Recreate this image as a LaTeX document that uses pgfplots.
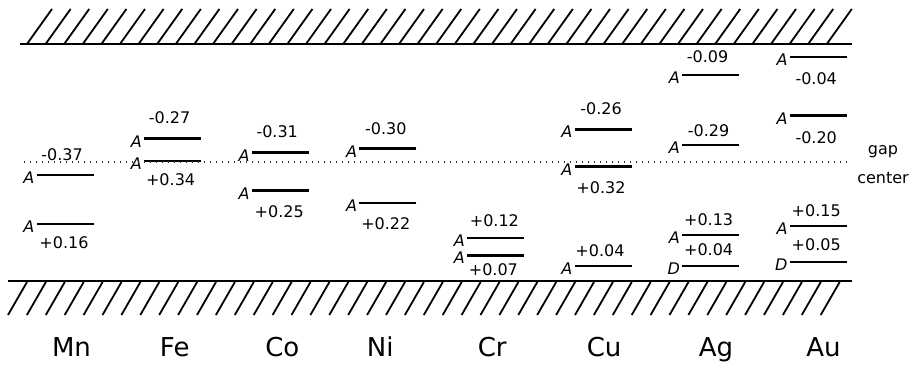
\documentclass[border=0pt]{standalone}
\usepackage{pgfplots}
\pgfplotsset{compat=1.18}
\usepackage{pgfplotstable}
\usepackage{fontspec}
\setmainfont{DejaVu Sans}
\usetikzlibrary{plotmarks}
\newcommand{\numfont}{\fontsize{16}{19}\selectfont}

% x = element index, y = level position (eV above valence band edge)
\pgfplotstableread{
x y lab dx dy lt
0 0.295 -0.37 -3 20 A
0 0.159 +0.16 -1 -19 A
1 0.396 -0.27 -3 21 A
1 0.334 +0.34 -2 -19 A
2 0.357 -0.31 -3 21 A
2 0.251 +0.25 -1 -21 A
3 0.368 -0.30 -2 20 A
3 0.217 +0.22 -2 -21 A
4 0.120 +0.12 -1 17 A
4 0.072 +0.07 -2 -15 A
5 0.423 -0.26 -2 20 A
5 0.318 +0.32 -2 -21 A
5 0.042 +0.04 -3 15 A
6 0.574 -0.09 -3 18 A
6 0.379 -0.29 -2 14 A
6 0.128 +0.13 -2 15 A
6 0.042 +0.04 -2 16 D
7 0.624 -0.04 -2 -22 A
7 0.460 -0.20 -2 -22 A
7 0.153 +0.15 -2 15 A
7 0.053 +0.05 -2 17 D
}\levels

\begin{document}
\begin{tikzpicture}
\begin{axis}[
  at={(0,0)}, anchor=south west,
  scale only axis, width=916pt, height=367pt,
  xmin=-0.6041, xmax=7.9089, ymin=-0.2396, ymax=0.7827,
  axis line style={draw=none},
  major tick style={draw=none},
  ytick=\empty,
  xtick={0.06,1.02,2.02,2.93,3.97,5.01,6.05,7.05},
  xticklabels={Mn,Fe,Co,Ni,Cr,Cu,Ag,Au},
  xticklabel style={anchor=base, yshift=10pt, font=\fontsize{26}{30}\selectfont},
  clip=false,
]
\path (rel axis cs:0,0) rectangle (rel axis cs:1,1);
\addplot[only marks, mark=-, mark size=28.5pt, mark options={line width=2.8pt}]
  table[x=x,y=y]{\levels};
\addplot[only marks, mark=*, mark size=0pt, mark options={draw=none,fill=none},
  point meta=explicit symbolic,
  visualization depends on={\thisrow{dx}\as\ldx},
  visualization depends on={\thisrow{dy}\as\ldy},
  nodes near coords,
  every node near coord/.append style={anchor=center, xshift=\ldx pt, yshift=\ldy pt, font=\numfont, inner sep=0pt}]
  table[x=x,y=y,meta=lab]{\levels};
\addplot[only marks, mark=*, mark size=0pt, mark options={draw=none,fill=none},
  point meta=explicit symbolic,
  nodes near coords,
  every node near coord/.append style={anchor=east, xshift=-30.5pt, yshift=-2.5pt, font=\itshape\numfont, inner sep=0pt}]
  table[x=x,y=y,meta=lt]{\levels};
\end{axis}
% band edges with hatching
\foreach \i in {0,...,43} {
  \draw[line width=1.8pt] ({27pt+\i*18.6pt},323pt) -- ({52pt+\i*18.6pt},358pt);
  \draw[line width=1.8pt] ({27pt+\i*18.9pt},85pt) -- ({8pt+\i*18.9pt},52pt);
}
\draw[line width=2.7pt] (20pt,323pt) -- (852pt,323pt);
\draw[line width=2.7pt] (8pt,86pt) -- (852pt,86pt);
\draw[line width=1.2pt, dash pattern=on 1.3pt off 4.7pt, black!80] (24pt,205pt) -- (851pt,205pt);
\node[anchor=base, font=\numfont, inner sep=0pt] at (883pt,212pt) {gap};
\node[anchor=base, font=\numfont, inner sep=0pt] at (883pt,183pt) {center};
\end{tikzpicture}
\end{document}
